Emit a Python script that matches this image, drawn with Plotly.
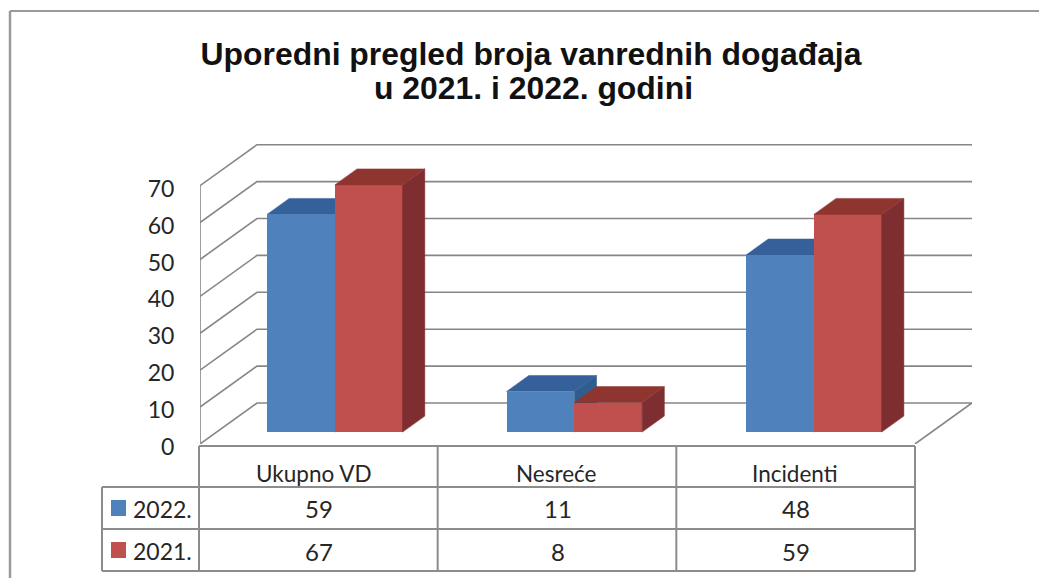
import plotly.graph_objects as go

# ---- data ----
categories = ["Ukupno VD", "Nesreće", "Incidenti"]
series_names = ["2022.", "2021."]
values_2022 = [59, 11, 48]
values_2021 = [67, 8, 59]
y_ticks = [0, 10, 20, 30, 40, 50, 60, 70]
title_line_1 = "Uporedni pregled broja vanrednih događaja"
title_line_2 = "u 2021. i 2022. godini"

# ---- style / page geometry ----
W, H = 1039, 578
PLOT_L, PLOT_R, PLOT_T, PLOT_B = 200, 972, 144, 444
CAT_PX = 238.33
VAL_PX = 3.69
DX = 57 / CAT_PX      # depth offset of the back wall, in x units
DY = 41 / VAL_PX      # depth offset of the back wall, in y units
F0, F1 = 0.29, 0.68   # depth fraction of bar front and bar back
BAR_W = 0.2845
GAP = 0.2117
GROUP_STEP = 1.005
GRID = "#868686"
BORDER = "#8c8c8c"
TXT = "#262626"
FONT = "Lato"
TITLE_FONT = dict(family="Liberation Sans", size=31.9, color="#111111", weight="bold")
CAT_XSHIFT = [-5, -1, -1]
STYLE = {
    "2022.": dict(front="#4F81BD", top="#35609A", side="#2E5E8E"),
    "2021.": dict(front="#C0504D", top="#8E3530", side="#7E2E30"),
}

x_range = [0, (PLOT_R - PLOT_L) / CAT_PX]
y_range = [0, (PLOT_B - PLOT_T) / VAL_PX]


def px(x):
    return x / W


def py(y):
    return 1 - y / H


def proj(x, y, d):
    return x + d * DX, y + d * DY


fig = go.Figure()


def poly(points, color, axes):
    fig.add_trace(go.Scatter(
        x=[p[0] for p in points] + [points[0][0]],
        y=[p[1] for p in points] + [points[0][1]],
        mode="lines", fill="toself", fillcolor=color,
        line=dict(color=color, width=0.5),
        showlegend=False, hoverinfo="skip", xaxis=axes[0], yaxis=axes[1]))


def line(xs, ys):
    fig.add_trace(go.Scatter(
        x=xs, y=ys, mode="lines", line=dict(color=GRID, width=1.6),
        showlegend=False, hoverinfo="skip", xaxis="x", yaxis="y"))


# walls and gridlines (lowest layer)
n = len(categories)
for v in y_ticks:
    x0, y0 = proj(0, v, 0)
    x1, y1 = proj(0, v, 1)
    line([x0, x1, x1 + n], [y0, y1, y1])
line([0, 0], [0, y_ticks[-1]])
line([n, n + DX], [0, DY])


def side_top(left, v, style, axes):
    right = left + BAR_W
    base0 = proj(right, 0, F0)
    base1 = proj(right, 0, F1)
    top0 = proj(right, v, F0)
    top1 = proj(right, v, F1)
    poly([base0, base1, top1, top0], style["side"], axes)
    tl0 = proj(left, v, F0)
    tl1 = proj(left, v, F1)
    poly([tl0, tl1, top1, top0], style["top"], axes)


lefts_blue = [i * GROUP_STEP + GAP for i in range(n)]
lefts_red = [i * GROUP_STEP + GAP + BAR_W for i in range(n)]

# 2022 depth faces sit under the overlay layer that holds the front faces
for left, v in zip(lefts_blue, values_2022):
    side_top(left, v, STYLE["2022."], ("x", "y"))

base_x, base_y = proj(0, 0, F0)
for name, lefts, vals in (("2022.", lefts_blue, values_2022),
                          ("2021.", lefts_red, values_2021)):
    fig.add_trace(go.Bar(
        x=[l + BAR_W / 2 + base_x for l in lefts], y=vals, base=base_y,
        width=BAR_W, name=name, marker=dict(color=STYLE[name]["front"], line=dict(width=0)),
        showlegend=False, hoverinfo="skip", xaxis="x2", yaxis="y2"))

for left, v in zip(lefts_red, values_2021):
    side_top(left, v, STYLE["2021."], ("x2", "y2"))

# data table
TABLE_L, TABLE_X0 = 102, 199
ROW_Y = [446, 487, 529, 571]
shapes = []


def seg(x0, y0, x1, y1, color=BORDER, width=2):
    shapes.append(dict(type="line", xref="paper", yref="paper",
                       x0=px(x0), y0=py(y0), x1=px(x1), y1=py(y1),
                       line=dict(color=color, width=width), layer="above"))


col_x = [TABLE_X0 + i * (915 - TABLE_X0) / n for i in range(n + 1)]
seg(col_x[0], ROW_Y[0], col_x[-1], ROW_Y[0])
seg(TABLE_L, ROW_Y[1], col_x[-1], ROW_Y[1])
seg(TABLE_L, ROW_Y[2], col_x[-1], ROW_Y[2])
seg(TABLE_L, ROW_Y[3], col_x[-1], ROW_Y[3])
seg(TABLE_L, ROW_Y[1], TABLE_L, ROW_Y[3])
for cx in col_x:
    seg(cx, ROW_Y[0], cx, ROW_Y[3])

# outer chart frame (open on the right and at the bottom)
seg(10, 11, 1039, 11, "#9a9a9a", 2)
seg(10, 11, 10, 578, "#9a9a9a", 2.5)

annotations = []


def cell(text, x, xref, y, anchor="center", size=23, xshift=0):
    annotations.append(dict(text=text, x=x, xref=xref, y=py(y), yref="paper",
                            xanchor=anchor, yanchor="middle", showarrow=False, xshift=xshift,
                            font=dict(family=FONT, size=size, color=TXT)))


for i, c in enumerate(categories):
    cell(c, i + 0.5, "x", (ROW_Y[0] + ROW_Y[1]) / 2 + 7, size=22.5, xshift=CAT_XSHIFT[i])
    cell(str(values_2022[i]), i + 0.5, "x", (ROW_Y[1] + ROW_Y[2]) / 2 + 1, size=24)
    cell(str(values_2021[i]), i + 0.5, "x", (ROW_Y[2] + ROW_Y[3]) / 2 + 1, size=24)

for k, name in enumerate(series_names):
    yc = (ROW_Y[k + 1] + ROW_Y[k + 2]) / 2
    shapes.append(dict(type="rect", xref="paper", yref="paper",
                       x0=px(111), x1=px(126), y0=py(yc - 8), y1=py(yc + 8),
                       fillcolor=STYLE[name]["front"], line=dict(width=0), layer="above"))
    cell(name, px(131), "paper", yc + 1, "left", size=23)

annotations.append(dict(text=title_line_2, x=px(533), xref="paper", y=py(88), yref="paper",
                        xanchor="center", yanchor="middle", showarrow=False, font=TITLE_FONT))

domain_x = [px(PLOT_L), px(PLOT_R)]
domain_y = [py(PLOT_B), py(PLOT_T)]

fig.update_layout(
    width=W, height=H, margin=dict(l=0, r=0, t=0, b=0, autoexpand=False),
    paper_bgcolor="white", plot_bgcolor="rgba(0,0,0,0)",
    barmode="overlay", bargap=0,
    title=dict(text=title_line_1, x=531 / W, y=py(54), xanchor="center", yanchor="middle",
               xref="paper", yref="paper", font=TITLE_FONT),
    xaxis=dict(domain=domain_x, range=x_range, visible=False, fixedrange=True, automargin=False),
    yaxis=dict(domain=domain_y, range=y_range, tickvals=y_ticks, showgrid=False,
               zeroline=False, showline=False, ticks="outside", ticklen=20,
               tickcolor="rgba(0,0,0,0)", tickfont=dict(family=FONT, size=23, color=TXT),
               ticklabelshift=3, fixedrange=True, automargin=False),
    xaxis2=dict(domain=domain_x, range=x_range, visible=False, overlaying="x", fixedrange=True),
    yaxis2=dict(domain=domain_y, range=y_range, visible=False, overlaying="y", fixedrange=True),
    shapes=shapes, annotations=annotations,
)

fig.write_html("out.html", config=dict(displayModeBar=False),
               post_script="document.body.style.margin='0';document.body.style.overflow='hidden';")
